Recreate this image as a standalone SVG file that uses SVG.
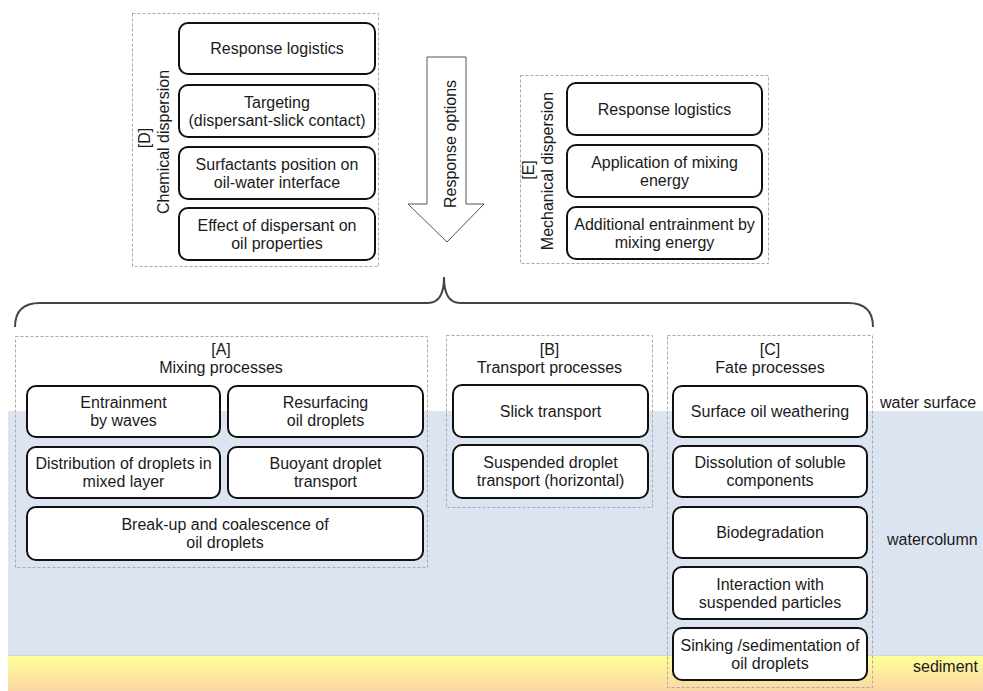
<svg xmlns="http://www.w3.org/2000/svg" width="983" height="691" viewBox="0 0 983 691">
<defs>
<linearGradient id="sed" x1="0" y1="0" x2="0" y2="1">
<stop offset="0" stop-color="#ffff99"/>
<stop offset="1" stop-color="#fbd6a6"/>
</linearGradient>
<style>
text{font-family:"Liberation Sans",Arial,sans-serif;font-size:16px;fill:#1a1a1a}
.c{text-anchor:middle}
.box{fill:#fff;stroke:#111;stroke-width:2}
.grp{fill:none;stroke:#aaa;stroke-width:1;stroke-dasharray:3 2}
</style>
</defs>
<g id="background">
<rect x="8" y="411" width="975" height="245" fill="#dbe4f0"/>
<rect x="8" y="656" width="975" height="35" fill="url(#sed)"/>
<line x1="8" y1="655.5" x2="983" y2="655.5" stroke="#d4d4d4" stroke-width="1"/>
<text x="880" y="408">water surface</text>
<text x="887" y="545">watercolumn</text>
<text x="913" y="672">sediment</text>
</g>
<g id="connectors">
<path d="M15,327 Q15,303 40,303 L428,303 Q444,303 444,277 Q444,303 460,303 L848,303 Q873,303 873,327" fill="none" stroke="#444" stroke-width="2"/>
</g>
<g id="response-arrow">
<path d="M427,57 L466,57 L466,204 L484,204 L447,242 L408,204 L427,204 Z" fill="#fff" stroke="#555" stroke-width="1"/>
<text class="c" transform="translate(456,144) rotate(-90)">Response options</text>
</g>
<g id="groupD">
<rect class="grp" x="132.5" y="13.5" width="246" height="253"/>
<text class="c" transform="translate(150,138) rotate(-90)">[D]</text>
<text class="c" transform="translate(169,142) rotate(-90)">Chemical dispersion</text>
<g id="d1"><rect class="box" x="179" y="23" width="196" height="51" rx="9"/><text class="c" x="277" y="54">Response logistics</text></g>
<g id="d2"><rect class="box" x="179" y="85" width="196" height="52" rx="9"/><text class="c" x="277" y="107.5">Targeting</text><text class="c" x="277" y="125.5">(dispersant-slick contact)</text></g>
<g id="d3"><rect class="box" x="179" y="147" width="196" height="52" rx="9"/><text class="c" x="277" y="169.5">Surfactants position on</text><text class="c" x="277" y="187.5">oil-water interface</text></g>
<g id="d4"><rect class="box" x="179" y="208" width="196" height="52" rx="9"/><text class="c" x="277" y="230.5">Effect of dispersant on</text><text class="c" x="277" y="248.5">oil properties</text></g>
</g>
<g id="groupE">
<rect class="grp" x="520.5" y="75.5" width="248" height="188"/>
<text class="c" transform="translate(534,170) rotate(-90)">[E]</text>
<text class="c" transform="translate(553,171) rotate(-90)">Mechanical dispersion</text>
<g id="e1"><rect class="box" x="567" y="83" width="195" height="52" rx="9"/><text class="c" x="664.5" y="114.5">Response logistics</text></g>
<g id="e2"><rect class="box" x="567" y="145" width="195" height="52" rx="9"/><text class="c" x="664.5" y="167.5">Application of mixing</text><text class="c" x="664.5" y="185.5">energy</text></g>
<g id="e3"><rect class="box" x="567" y="207" width="195" height="52" rx="9"/><text class="c" x="664.5" y="229.5">Additional entrainment by</text><text class="c" x="664.5" y="247.5">mixing energy</text></g>
</g>
<g id="groupA">
<rect class="grp" x="15.5" y="336.5" width="412" height="231"/>
<text class="c" x="221" y="355">[A]</text>
<text class="c" x="221" y="373">Mixing processes</text>
<g id="a1"><rect class="box" x="27" y="386" width="193" height="51" rx="9"/><text class="c" x="123.5" y="408">Entrainment</text><text class="c" x="123.5" y="426">by waves</text></g>
<g id="a2"><rect class="box" x="228" y="386" width="195" height="51" rx="9"/><text class="c" x="325.5" y="408">Resurfacing</text><text class="c" x="325.5" y="426">oil droplets</text></g>
<g id="a3"><rect class="box" x="27" y="447" width="193" height="51" rx="9"/><text class="c" x="123.5" y="469">Distribution of droplets in</text><text class="c" x="123.5" y="487">mixed layer</text></g>
<g id="a4"><rect class="box" x="228" y="447" width="195" height="51" rx="9"/><text class="c" x="325.5" y="469">Buoyant droplet</text><text class="c" x="325.5" y="487">transport</text></g>
<g id="a5"><rect class="box" x="27" y="507" width="396" height="53" rx="9"/><text class="c" x="225" y="530">Break-up and coalescence of</text><text class="c" x="225" y="548">oil droplets</text></g>
</g>
<g id="groupB">
<rect class="grp" x="446.5" y="335.5" width="206" height="172"/>
<text class="c" x="549.5" y="355">[B]</text>
<text class="c" x="549.5" y="373">Transport processes</text>
<g id="b1"><rect class="box" x="453" y="385" width="195" height="52" rx="9"/><text class="c" x="550.5" y="416.5">Slick transport</text></g>
<g id="b2"><rect class="box" x="453" y="445" width="195" height="53" rx="9"/><text class="c" x="550.5" y="468">Suspended droplet</text><text class="c" x="550.5" y="486">transport (horizontal)</text></g>
</g>
<g id="groupC">
<rect class="grp" x="667.5" y="335.5" width="205" height="352"/>
<text class="c" x="770" y="355">[C]</text>
<text class="c" x="770" y="373">Fate processes</text>
<g id="c1"><rect class="box" x="673" y="386" width="194" height="51" rx="9"/><text class="c" x="770" y="417">Surface oil weathering</text></g>
<g id="c2"><rect class="box" x="673" y="446" width="194" height="51" rx="9"/><text class="c" x="770" y="468">Dissolution of soluble</text><text class="c" x="770" y="486">components</text></g>
<g id="c3"><rect class="box" x="673" y="507" width="194" height="51" rx="9"/><text class="c" x="770" y="538">Biodegradation</text></g>
<g id="c4"><rect class="box" x="673" y="567" width="194" height="52" rx="9"/><text class="c" x="770" y="589.5">Interaction with</text><text class="c" x="770" y="607.5">suspended particles</text></g>
<g id="c5"><rect class="box" x="673" y="628" width="194" height="52" rx="9"/><text class="c" x="770" y="650.5">Sinking /sedimentation of</text><text class="c" x="770" y="668.5">oil droplets</text></g>
</g>
</svg>
